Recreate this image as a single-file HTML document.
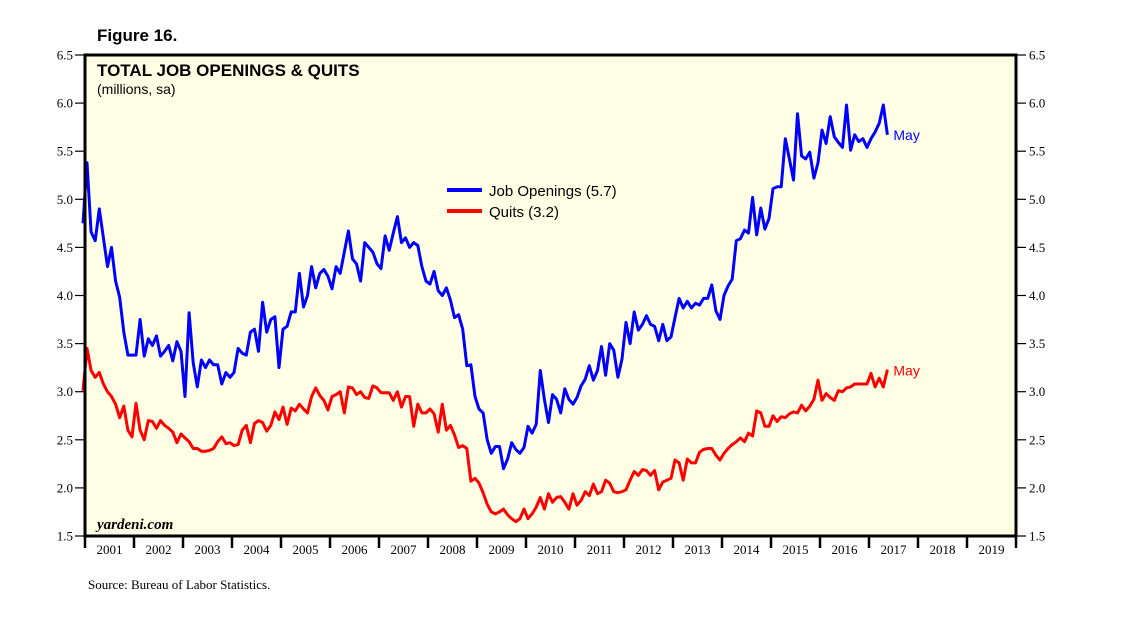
<!DOCTYPE html>
<html><head><meta charset="utf-8"><style>
html,body{margin:0;padding:0;background:#fff;}
svg{display:block;}
</style></head><body>
<svg id="chart" width="1138" height="623" xmlns="http://www.w3.org/2000/svg">
<text x="97" y="41" font-family="Liberation Sans, sans-serif" font-weight="bold" font-size="17">Figure 16.</text>
<rect x="85" y="55" width="931" height="481" fill="#FFFFE5"/>
<g id="grid"></g>
<g id="series"></g>
<rect x="85" y="55" width="931" height="481" fill="none" stroke="#000" stroke-width="3"/>
<text x="97" y="76" font-family="Liberation Sans, sans-serif" font-weight="bold" font-size="17">TOTAL JOB OPENINGS &amp; QUITS</text>
<text x="97" y="94" font-family="Liberation Sans, sans-serif" font-size="14">(millions, sa)</text>
<text x="97" y="529" font-family="Liberation Serif, serif" font-weight="bold" font-style="italic" font-size="15">yardeni.com</text>
<g>
<line x1="447" y1="190" x2="482" y2="190" stroke="#0000FF" stroke-width="4"/>
<text x="489" y="196" font-family="Liberation Sans, sans-serif" font-size="15">Job Openings (5.7)</text>
<line x1="447" y1="211" x2="482" y2="211" stroke="#FF0000" stroke-width="4"/>
<text x="489" y="217" font-family="Liberation Sans, sans-serif" font-size="15">Quits (3.2)</text>
</g>
<text x="88" y="589" font-family="Liberation Serif, serif" font-size="13">Source: Bureau of Labor Statistics.</text>
</svg>
<script>
const yTicks = [1.5,2.0,2.5,3.0,3.5,4.0,4.5,5.0,5.5,6.0,6.5];
const years = [2001,2002,2003,2004,2005,2006,2007,2008,2009,2010,2011,2012,2013,2014,2015,2016,2017,2018,2019];
const startYear = 2000, startMonth = 12; // Dec 2000
const jobOpenings = [4.75,
5.38,4.66,4.57,4.9,4.6,4.3,4.5,4.15,3.98,3.62,3.38,3.38,
3.38,3.75,3.37,3.55,3.48,3.58,3.37,3.42,3.48,3.32,3.52,3.42,
2.95,3.82,3.3,3.05,3.33,3.25,3.33,3.28,3.28,3.08,3.2,3.15,
3.2,3.45,3.4,3.38,3.62,3.65,3.42,3.93,3.62,3.75,3.78,3.25,
3.65,3.68,3.83,3.83,4.23,3.88,4.0,4.3,4.08,4.23,4.27,4.2,
4.07,4.3,4.23,4.45,4.67,4.38,4.33,4.15,4.55,4.5,4.45,4.33,
4.28,4.62,4.47,4.65,4.82,4.55,4.6,4.5,4.55,4.52,4.3,4.15,
4.12,4.25,4.05,4.0,4.08,3.95,3.77,3.8,3.65,3.27,3.28,2.95,
2.82,2.78,2.5,2.36,2.43,2.43,2.2,2.3,2.47,2.4,2.36,2.42,
2.64,2.57,2.66,3.22,2.92,2.68,2.97,2.92,2.78,3.03,2.92,2.87,
2.94,3.06,3.13,3.27,3.12,3.22,3.47,3.17,3.5,3.43,3.15,3.34,
3.72,3.5,3.83,3.64,3.7,3.79,3.7,3.68,3.53,3.7,3.53,3.57,
3.77,3.97,3.87,3.94,3.87,3.92,3.9,3.97,3.97,4.11,3.84,3.75,
4.0,4.1,4.17,4.57,4.59,4.68,4.65,5.02,4.63,4.91,4.69,4.8,
5.11,5.13,5.13,5.63,5.42,5.2,5.89,5.45,5.42,5.49,5.22,5.38,
5.72,5.58,5.86,5.65,5.59,5.54,5.98,5.51,5.67,5.6,5.63,5.54,
5.63,5.7,5.79,5.98,5.67];
const quits = [3.01,
3.45,3.22,3.15,3.2,3.08,3.0,2.95,2.87,2.73,2.85,2.6,2.53,
2.88,2.6,2.5,2.7,2.69,2.62,2.7,2.65,2.62,2.58,2.47,2.56,
2.52,2.48,2.41,2.41,2.38,2.38,2.39,2.41,2.48,2.53,2.46,2.47,
2.44,2.45,2.6,2.65,2.47,2.67,2.7,2.68,2.59,2.65,2.79,2.71,
2.84,2.66,2.83,2.8,2.87,2.82,2.78,2.95,3.04,2.96,2.91,2.81,
2.95,2.97,3.0,2.78,3.05,3.04,2.97,3.0,2.94,2.93,3.06,3.04,
2.99,2.99,2.99,2.91,3.0,2.84,2.95,2.95,2.64,2.87,2.78,2.78,
2.82,2.77,2.58,2.87,2.6,2.65,2.55,2.42,2.44,2.41,2.07,2.1,
2.05,1.95,1.83,1.75,1.73,1.75,1.78,1.72,1.68,1.65,1.68,1.78,
1.68,1.73,1.8,1.9,1.78,1.94,1.85,1.9,1.91,1.85,1.78,1.94,
1.82,1.87,1.96,1.92,2.04,1.94,1.96,2.08,2.05,1.96,1.95,1.96,
1.98,2.08,2.17,2.13,2.19,2.18,2.13,2.18,1.98,2.06,2.08,2.1,
2.29,2.26,2.08,2.3,2.26,2.26,2.37,2.4,2.41,2.41,2.34,2.29,
2.36,2.41,2.45,2.48,2.52,2.48,2.57,2.54,2.8,2.78,2.64,2.64,
2.75,2.69,2.74,2.73,2.77,2.79,2.78,2.86,2.8,2.85,2.92,3.12,
2.91,2.98,2.94,2.91,3.01,3.0,3.04,3.05,3.08,3.08,3.08,3.08,
3.19,3.05,3.14,3.05,3.23];

const X0=85, YEAR_W=49, YB=536, YT=55, VMIN=1.5, VMAX=6.5;
function yScale(v){ return YB - (v-VMIN)/(VMAX-VMIN)*(YB-YT); }
function xScale(t){ return X0 + (t-2001)*YEAR_W; }
function monthT(i){ const m = startMonth-1+i; return startYear + Math.floor(m/12) + ((m%12)+0.5)/12; }
const NS='http://www.w3.org/2000/svg';
const grid=document.getElementById('grid');
const ser=document.getElementById('series');
function mk(tag,attrs,parent){const e=document.createElementNS(NS,tag);for(const k in attrs)e.setAttribute(k,attrs[k]);parent.appendChild(e);return e;}

yTicks.forEach(v=>{
  const y=yScale(v);
  const t1=mk('line',{x1:75,y1:y,x2:85,y2:y,stroke:'#000','stroke-width':1.2},grid);
  
  
  const t2=mk('line',{x1:1016,y1:y,x2:1026,y2:y,stroke:'#000','stroke-width':1.2},grid);
  
  
  const l1=mk('text',{x:73,y:y+4.5,'text-anchor':'end','font-family':'Liberation Serif, serif','font-size':13},grid);
  l1.textContent=v.toFixed(1);
  
  
  const l2=mk('text',{x:1029,y:y+4.5,'font-family':'Liberation Serif, serif','font-size':13},grid);
  l2.textContent=v.toFixed(1);
  
  
});
years.forEach((yr,i)=>{
  const x=xScale(yr);
  const tk=mk('line',{x1:x,y1:YB,x2:x,y2:YB+12,stroke:'#000','stroke-width':2.5},grid);
  
  
  const lb=mk('text',{x:x+YEAR_W/2,y:554,'text-anchor':'middle','font-family':'Liberation Serif, serif','font-size':13},grid);
  lb.textContent=yr;
  
  
});
const lastTick=mk('line',{x1:xScale(2020),y1:YB,x2:xScale(2020),y2:YB+12,stroke:'#000','stroke-width':2.5},grid);



function drawSeries(vals,color,name){
  const pts=vals.map((v,i)=>xScale(monthT(i)).toFixed(1)+','+yScale(v).toFixed(1)).join(' ');
  const p=mk('polyline',{points:pts,fill:'none',stroke:color,'stroke-width':3,'stroke-linejoin':'round'},ser);
  
  
  const n=vals.length-1;
  const t=mk('text',{x:xScale(monthT(n))+6,y:yScale(vals[n])+(name==='job-openings-line'?5:6),fill:color,'font-family':'Liberation Sans, sans-serif','font-size':14},ser);
  t.textContent='May';
  
  
}
drawSeries(jobOpenings,'#0000FF','job-openings-line');
drawSeries(quits,'#FF0000','quits-line');
</script>
</body></html>
